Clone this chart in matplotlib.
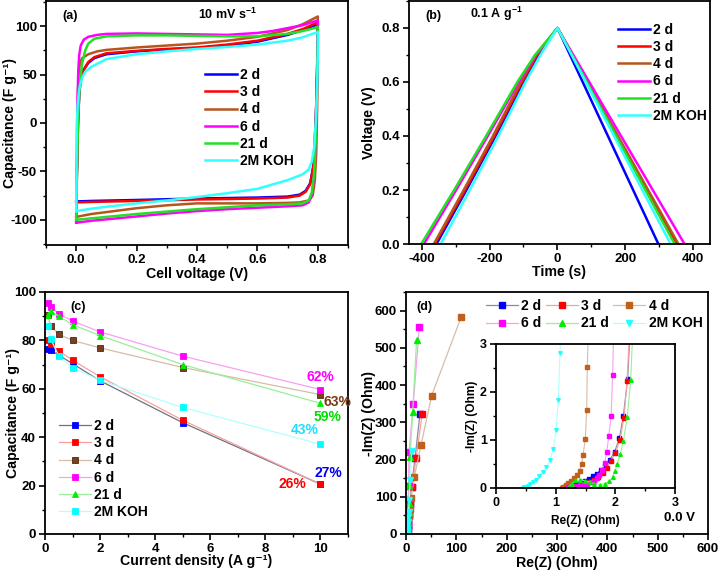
import matplotlib
matplotlib.use("Agg")
import matplotlib.pyplot as plt
from matplotlib.ticker import MultipleLocator

plt.rcParams['font.family'] = ['Liberation Sans', 'DejaVu Sans']
plt.rcParams['font.weight'] = 'bold'
plt.rcParams['axes.labelweight'] = 'bold'
plt.rcParams['axes.unicode_minus'] = False
plt.rcParams['mathtext.fontset'] = 'custom'
plt.rcParams['mathtext.rm'] = 'Liberation Sans:bold'
plt.rcParams['mathtext.bf'] = 'Liberation Sans:bold'
plt.rcParams['mathtext.default'] = 'bf'

# ---------------- data ----------------
labels = ['2 d', '3 d', '4 d', '6 d', '21 d', '2M KOH']
line_colors = ['#0000ff', '#ff0000', '#b5561e', '#ff00ff', '#22e022', '#33ffff']

# (a) CV loops at 10 mV/s
cv_v_2d = [0.0, 0.003, 0.006, 0.01, 0.015, 0.025, 0.04, 0.06, 0.1, 0.2, 0.3, 0.4, 0.5, 0.6, 0.7, 0.75, 0.8,
           0.798, 0.795, 0.79, 0.785, 0.775, 0.76, 0.74, 0.7, 0.6, 0.4, 0.2, 0.05, 0.0]
cv_c_2d = [-81, -40, 0, 30, 45, 55, 62, 67, 71, 74, 76, 77.5, 80, 84, 91, 96, 102,
           60, 20, -20, -45, -62, -70, -74, -76, -77, -78, -79.5, -80.5, -81]
cv_v_3d = [0.0, 0.003, 0.006, 0.01, 0.015, 0.025, 0.04, 0.06, 0.1, 0.2, 0.3, 0.4, 0.5, 0.6, 0.7, 0.75, 0.8,
           0.798, 0.795, 0.79, 0.785, 0.775, 0.76, 0.74, 0.7, 0.6, 0.4, 0.2, 0.05, 0.0]
cv_c_3d = [-82, -40, 0, 30, 45, 55, 63, 68, 72, 74.5, 76.5, 78, 81, 85, 92, 97, 104,
           60, 20, -20, -45, -63, -71, -75, -77, -78, -79, -80.5, -81.5, -82]
cv_v_4d = [0.0, 0.003, 0.005, 0.008, 0.012, 0.02, 0.04, 0.07, 0.1, 0.2, 0.3, 0.4, 0.5, 0.6, 0.7, 0.75, 0.8,
           0.8, 0.798, 0.795, 0.79, 0.783, 0.77, 0.74, 0.7, 0.6, 0.5, 0.4, 0.3, 0.2, 0.1, 0.05, 0.0]
cv_c_4d = [-97, -40, 20, 50, 62, 67, 71, 74, 75.5, 78, 80, 82, 85, 89, 96, 102, 110,
           70, 20, -30, -60, -75, -80, -82, -82.5, -83, -83, -83, -85, -88, -92, -94, -97]
cv_v_6d = [0.0, 0.002, 0.004, 0.007, 0.01, 0.015, 0.025, 0.04, 0.07, 0.1, 0.2, 0.3, 0.4, 0.5, 0.6, 0.65, 0.7, 0.75, 0.8,
           0.8, 0.797, 0.793, 0.788, 0.78, 0.77, 0.75, 0.7, 0.6, 0.5, 0.4, 0.3, 0.2, 0.1, 0.05, 0.0]
cv_c_6d = [-103, -40, 20, 55, 70, 80, 86, 89, 91, 92, 92.5, 92, 91.5, 91, 93, 95, 98, 101, 106,
           80, 30, -20, -55, -75, -82, -85, -86, -87.5, -89, -91, -93.5, -96.5, -99.5, -101, -103]
cv_v_21d = [0.0, 0.003, 0.006, 0.01, 0.015, 0.02, 0.03, 0.04, 0.06, 0.1, 0.2, 0.3, 0.4, 0.5, 0.6, 0.7, 0.75, 0.8,
            0.8, 0.797, 0.793, 0.787, 0.78, 0.77, 0.75, 0.7, 0.6, 0.5, 0.4, 0.3, 0.2, 0.1, 0.05, 0.0]
cv_c_21d = [-100, -40, 0, 30, 50, 62, 75, 82, 87, 89.5, 90.5, 90.5, 90, 89.5, 89.5, 92, 95, 99,
            80, 30, -20, -55, -72, -80, -83, -84, -85, -87, -89, -91.5, -94, -97, -98.5, -100]
cv_v_koh = [0.0, 0.001, 0.002, 0.005, 0.01, 0.02, 0.03, 0.05, 0.1, 0.2, 0.3, 0.4, 0.5, 0.6, 0.7, 0.75, 0.8,
            0.8, 0.797, 0.793, 0.788, 0.78, 0.77, 0.75, 0.7, 0.6, 0.5, 0.4, 0.3, 0.2, 0.1, 0.05, 0.0]
cv_c_koh = [-91, -40, 0, 20, 35, 47, 53, 58, 66, 71, 74, 76.5, 78.5, 81, 85, 88.5, 94,
            70, 30, 0, -25, -40, -48, -53, -59, -68, -72.5, -76.5, -80, -83, -86.5, -88.5, -91]

# (b) GCD at 0.1 A/g : time (s), voltage (V)
gcd_v = [0.0, 0.2, 0.4, 0.6, 0.7, 0.8, 0.0]
gcd_t_2d = [-356, -268, -182, -100, -56, 0, 297]
gcd_t_3d = [-361, -272, -186, -104, -60, 0, 351]
gcd_t_4d = [-364, -276, -190, -108, -63, 0, 356]
gcd_t_6d = [-393, -298, -205, -114, -64, 0, 374]
gcd_t_21d = [-401, -304, -210, -118, -66, 0, 345]
gcd_t_koh = [-344, -258, -174, -94, -50, 0, 333]

# (c) rate capability
current_density = [0.1, 0.2, 0.5, 1, 2, 5, 10]
cap_2d = [76.5, 76.0, 73.9, 70.4, 63.3, 46.0, 20.6]
cap_3d = [80.0, 78.7, 75.7, 71.8, 65.0, 47.0, 20.6]
cap_4d = [90.6, 86.0, 82.5, 80.0, 76.9, 68.8, 57.6]
cap_6d = [95.5, 93.8, 91.0, 88.0, 83.5, 73.5, 59.7]
cap_21d = [90.5, 92.2, 90.0, 86.5, 82.0, 70.0, 54.0]
cap_koh = [85.8, 80.7, 73.6, 68.8, 63.5, 52.3, 37.1]
retention_text = ['27%', '26%', '63%', '62%', '59%', '43%']
retention_x = [10.28, 8.99, 10.6, 10.0, 10.24, 9.42]
retention_y = [25.4, 20.5, 54.6, 64.9, 48.4, 42.9]
retention_colors = ['#0000ee', '#ff0000', '#7a3a12', '#ff00ff', '#00dd00', '#22ddff']

# (d) Nyquist
re_2d = [1.117, 1.16, 1.218, 1.285, 1.35, 1.42, 1.486, 1.553, 1.62, 1.687, 1.754, 1.83, 1.91, 1.99, 2.067, 2.134,
         2.207, 2.27, 2.5, 3.0, 3.5, 4.2, 5.0, 6.5, 8.0, 11.0, 17.9, 27.8]
im_2d = [0.007, 0.02, 0.04, 0.06, 0.09, 0.12, 0.15, 0.19, 0.24, 0.30, 0.37, 0.45, 0.59, 0.76, 1.04, 1.51,
         2.27, 3.8, 7, 13, 22, 35, 50, 65, 80, 127, 203, 323]
re_3d = [1.117, 1.17, 1.25, 1.33, 1.408, 1.486, 1.564, 1.64, 1.715, 1.79, 1.855, 1.92, 2.0, 2.08, 2.145, 2.196,
         2.26, 2.5, 3.0, 3.6, 4.3, 5.2, 6.8, 8.5, 12.0, 20.0, 32.0]
im_3d = [0.007, 0.014, 0.028, 0.04, 0.06, 0.09, 0.125, 0.17, 0.23, 0.31, 0.42, 0.56, 0.73, 1.01, 1.46, 2.22,
         3.8, 7, 13, 22, 35, 50, 65, 80, 127, 203, 321]
re_4d = [1.10, 1.13, 1.17, 1.21, 1.26, 1.31, 1.35, 1.40, 1.436, 1.46, 1.497, 1.52, 1.53, 1.58, 1.7, 2.0, 2.6,
         3.5, 5.0, 7.0, 10.0, 16.5, 30.0, 51.0, 110.0]
im_4d = [0.007, 0.03, 0.06, 0.10, 0.15, 0.21, 0.28, 0.36, 0.49, 0.69, 1.03, 1.62, 2.53, 4.5, 8, 13, 20,
         32, 48, 68, 95.5, 153, 240, 372, 584]
re_6d = [1.21, 1.27, 1.34, 1.41, 1.47, 1.53, 1.59, 1.64, 1.69, 1.73, 1.78, 1.82, 1.855, 1.89, 1.93, 1.955,
         1.99, 2.1, 2.5, 3.0, 3.5, 4.0, 4.5, 5.0, 6.0, 14.5, 26.5]
im_6d = [0.014, 0.03, 0.04, 0.055, 0.07, 0.09, 0.12, 0.15, 0.21, 0.28, 0.38, 0.52, 0.74, 1.08, 1.51, 2.35,
         4.2, 8, 15, 25, 40, 60, 90, 130, 220, 350, 557]
re_21d = [1.22, 1.27, 1.324, 1.408, 1.49, 1.57, 1.65, 1.743, 1.827, 1.90, 1.955, 1.99, 2.03, 2.08, 2.134, 2.2,
          2.257, 2.3, 2.6, 3.0, 3.5, 4.0, 4.5, 5.0, 6.0, 6.6, 8.0, 13.3, 21.0]
im_21d = [0.02, 0.09, 0.158, 0.173, 0.152, 0.12, 0.09, 0.069, 0.09, 0.14, 0.23, 0.35, 0.49, 0.7, 0.97, 1.48,
          2.24, 3.5, 7, 12, 20, 30, 45, 60, 82, 131, 207, 329, 520]
re_koh = [0.447, 0.47, 0.50, 0.53, 0.57, 0.615, 0.67, 0.726, 0.78, 0.838, 0.905, 0.96, 1.006, 1.045, 1.073,
          1.12, 1.25, 1.6, 2.3, 3.2, 4.2, 5.3, 6.6, 8.0, 11.3]
im_koh = [0.007, 0.014, 0.03, 0.05, 0.08, 0.12, 0.17, 0.24, 0.33, 0.43, 0.58, 0.81, 1.2, 1.84, 2.81,
          4.5, 8, 14, 22, 33, 45, 60, 91, 146, 223]

marker_colors_c = ['#0000ff', '#ff0000', '#7a4020', '#ff00ff', '#00ee00', '#00ffff']
marker_colors_d = ['#0000ff', '#ff0000', '#c0601a', '#ff00ff', '#00ee00', '#22ffff']
thin_colors = ['#8a8aa8', '#f8a0a0', '#d8bca8', '#f8a0f0', '#98f098', '#b0ffff']
markers_c = ['s', 's', 's', 's', '^', 's']
markers_d = ['s', 's', 's', 's', '^', 'v']

# ---------------- figure ----------------
fig = plt.figure(figsize=(7.2, 5.74), dpi=100)
W, H = 720.0, 574.0

def add_ax(x0, y0, x1, y1):
    return fig.add_axes([x0 / W, 1 - y1 / H, (x1 - x0) / W, (y1 - y0) / H])

axa = add_ax(46, 1, 348, 245)
axb = add_ax(409, 1, 710, 244)
axc = add_ax(45, 292, 348, 534)
axd = add_ax(406, 292, 708, 534)
axi = add_ax(496, 344, 675, 488)

TICK = 9.5
LAB = 10.2
LEG = 10

def style(ax, fs=TICK):
    for s in ax.spines.values():
        s.set_linewidth(1.3)
    ax.tick_params(which='major', direction='out', length=4, width=1.2, labelsize=fs, top=False, right=False, pad=2.5)
    ax.tick_params(which='minor', direction='out', length=2.5, width=1.0, top=False, right=False)
    for t in ax.get_xticklabels() + ax.get_yticklabels():
        t.set_fontweight('bold')

legkw = dict(frameon=False, fontsize=LEG, handlelength=2.3, handletextpad=0.25,
             labelspacing=0.23, borderpad=0, borderaxespad=0)

# (a)
cv_v = [cv_v_2d, cv_v_3d, cv_v_4d, cv_v_6d, cv_v_21d, cv_v_koh]
cv_c = [cv_c_2d, cv_c_3d, cv_c_4d, cv_c_6d, cv_c_21d, cv_c_koh]
for v, c, col, lab in zip(cv_v, cv_c, line_colors, labels):
    axa.plot(v, c, color=col, lw=1.8, label=lab)
axa.set_xlim(-0.1, 0.9)
axa.set_ylim(-126, 126)
axa.xaxis.set_major_locator(MultipleLocator(0.2))
axa.xaxis.set_minor_locator(MultipleLocator(0.1))
axa.yaxis.set_major_locator(MultipleLocator(50))
axa.yaxis.set_minor_locator(MultipleLocator(25))
axa.set_xlabel('Cell voltage (V)', fontsize=LAB)
axa.set_ylabel('Capacitance (F g⁻¹)', fontsize=LAB)
axa.xaxis.set_label_coords(0.5, -0.089)
axa.yaxis.set_label_coords(-0.095, 0.5)
style(axa)
axa.text(0.055, 0.94, '(a)', transform=axa.transAxes, fontsize=9, fontweight='bold', ha='left', va='center')
axa.text(0.6, 0.945, '10 mV s$^{-1}$', transform=axa.transAxes, fontsize=9, fontweight='bold', ha='center', va='center')
axa.legend(loc='upper left', bbox_to_anchor=(0.526, 0.725), **legkw)

# (b)
gcd_t = [gcd_t_2d, gcd_t_3d, gcd_t_4d, gcd_t_6d, gcd_t_21d, gcd_t_koh]
for t, col, lab in zip(gcd_t, line_colors, labels):
    axb.plot(t, gcd_v, color=col, lw=1.8, label=lab)
axb.set_xlim(-437, 449)
axb.set_ylim(0, 0.9)
axb.xaxis.set_major_locator(MultipleLocator(200))
axb.xaxis.set_minor_locator(MultipleLocator(100))
axb.yaxis.set_major_locator(MultipleLocator(0.2))
axb.yaxis.set_minor_locator(MultipleLocator(0.1))
axb.set_xlabel('Time (s)', fontsize=LAB)
axb.set_ylabel('Voltage (V)', fontsize=LAB)
axb.xaxis.set_label_coords(0.5, -0.086)
axb.yaxis.set_label_coords(-0.11, 0.5)
style(axb)
axb.text(0.055, 0.94, '(b)', transform=axb.transAxes, fontsize=9, fontweight='bold', ha='left', va='center')
axb.text(0.29, 0.945, '0.1 A g$^{-1}$', transform=axb.transAxes, fontsize=9, fontweight='bold', ha='center', va='center')
axb.legend(loc='upper left', bbox_to_anchor=(0.693, 0.91), **legkw)

# (c)
caps = [cap_2d, cap_3d, cap_4d, cap_6d, cap_21d, cap_koh]
for cp, lc, mc, mk, lab in zip(caps, thin_colors, marker_colors_c, markers_c, labels):
    ec = '#4a2a10' if lab == '4 d' else mc
    lc2 = '#707080' if lab == '2 d' else lc
    axc.plot(current_density, cp, color=lc2, lw=0.9, marker=mk, ms=4.2, mfc=mc, mec=ec, mew=0.6, label=lab)
for tx, x, y, col in zip(retention_text, retention_x, retention_y, retention_colors):
    axc.text(x, y, tx, color=col, fontsize=10, fontweight='bold', ha='center', va='center')
axc.set_xlim(0, 11)
axc.set_ylim(0, 100)
axc.xaxis.set_major_locator(MultipleLocator(2))
axc.xaxis.set_minor_locator(MultipleLocator(1))
axc.yaxis.set_major_locator(MultipleLocator(20))
axc.yaxis.set_minor_locator(MultipleLocator(10))
axc.set_xlabel('Current density (A g⁻¹)', fontsize=LAB)
axc.set_ylabel('Capacitance (F g⁻¹)', fontsize=LAB)
axc.xaxis.set_label_coords(0.5, -0.083)
axc.yaxis.set_label_coords(-0.083, 0.5)
style(axc)
axc.text(0.085, 0.94, '(c)', transform=axc.transAxes, fontsize=9, fontweight='bold', ha='left', va='center')
axc.legend(loc='upper left', bbox_to_anchor=(0.046, 0.475), **legkw)

# (d)
res = [re_2d, re_3d, re_4d, re_6d, re_21d, re_koh]
ims = [im_2d, im_3d, im_4d, im_6d, im_21d, im_koh]
dlines = []
for r, i, lc, mc, mk, lab in zip(res, ims, thin_colors, marker_colors_d, markers_d, labels):
    ln, = axd.plot(r, i, color=lc, lw=0.9, marker=mk, ms=4.2, mfc=mc, mec=mc, label=lab)
    dlines.append(ln)
    axi.plot(r, i, color=lc, lw=0.8, marker=mk, ms=2.6, mfc=mc, mec=mc)
axd.set_xlim(0, 600)
axd.set_ylim(0, 650)
axd.xaxis.set_major_locator(MultipleLocator(100))
axd.xaxis.set_minor_locator(MultipleLocator(50))
axd.yaxis.set_major_locator(MultipleLocator(100))
axd.yaxis.set_minor_locator(MultipleLocator(50))
axd.set_xlabel('Re(Z) (Ohm)', fontsize=LAB)
axd.set_ylabel('-Im(Z) (Ohm)', fontsize=LAB)
axd.xaxis.set_label_coords(0.5, -0.09)
axd.yaxis.set_label_coords(-0.099, 0.5)
style(axd)
axd.text(0.035, 0.94, '(d)', transform=axd.transAxes, fontsize=9, fontweight='bold', ha='left', va='center')
axd.text(0.907, 0.066, '0.0 V', transform=axd.transAxes, fontsize=9.5, fontweight='bold', ha='center', va='center')
legd = dict(legkw)
legd.update(ncol=3, columnspacing=0.3)
order = [0, 3, 1, 4, 2, 5]
axd.legend([dlines[k] for k in order], [labels[k] for k in order],
           loc='upper left', bbox_to_anchor=(0.265, 0.97), **legd)

axi.set_xlim(0, 3)
axi.set_ylim(0, 3)
axi.xaxis.set_major_locator(MultipleLocator(1))
axi.xaxis.set_minor_locator(MultipleLocator(0.5))
axi.yaxis.set_major_locator(MultipleLocator(1))
axi.yaxis.set_minor_locator(MultipleLocator(0.5))
axi.set_xlabel('Re(Z) (Ohm)', fontsize=8.6)
axi.set_ylabel('-Im(Z) (Ohm)', fontsize=8.6)
axi.xaxis.set_label_coords(0.5, -0.185)
axi.yaxis.set_label_coords(-0.1, 0.5)
style(axi, fs=9)
axi.set_zorder(5)

fig.savefig('out.png', dpi=100)
